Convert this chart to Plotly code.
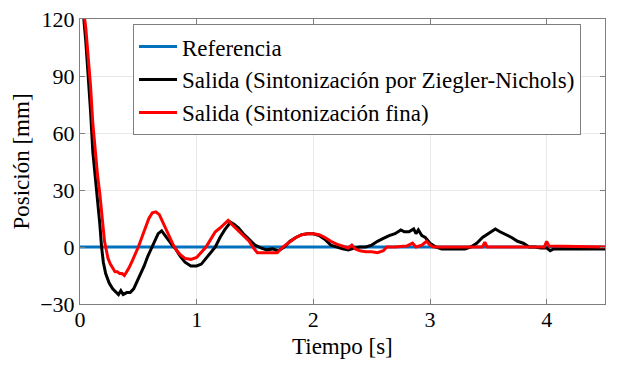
import plotly.graph_objects as go

# ---- data ----
t_ref = [0.0, 4.5]
y_ref = [0.0, 0.0]

t_zn = [0.00, 0.03, 0.05, 0.07, 0.09, 0.11, 0.13, 0.15, 0.17, 0.185, 0.20, 0.22,
        0.25, 0.28, 0.31, 0.33, 0.35, 0.37, 0.40, 0.43, 0.46, 0.49, 0.52, 0.55,
        0.58, 0.61, 0.64, 0.67, 0.70, 0.73, 0.76, 0.79, 0.82, 0.86, 0.90, 0.95,
        1.00, 1.04, 1.08, 1.12, 1.16, 1.20, 1.24, 1.29, 1.32, 1.36, 1.40, 1.45,
        1.50, 1.55, 1.60, 1.65, 1.70, 1.75, 1.80, 1.85, 1.90, 1.95, 2.00, 2.05,
        2.10, 2.15, 2.20, 2.25, 2.30, 2.35, 2.40, 2.45, 2.50, 2.55, 2.60, 2.65,
        2.70, 2.75, 2.78, 2.82, 2.86, 2.88, 2.90, 2.93, 2.96, 3.00, 3.05, 3.10,
        3.20, 3.30, 3.35, 3.40, 3.45, 3.50, 3.56, 3.60, 3.65, 3.70, 3.75, 3.80,
        3.85, 3.90, 3.95, 4.00, 4.03, 4.06, 4.20, 4.50]
y_zn = [135, 122, 108, 92, 72, 50, 38, 25, 12, 0, -8, -14,
        -19, -22, -24, -25, -23, -25, -24, -24, -22, -18, -14, -10,
        -5, -1, 3, 7, 8.5, 6, 3, 1, -1, -5, -8, -10,
        -10, -9, -6, -3, 0, 5, 9, 13, 12, 10, 7, 4,
        1, -0.5, -1.5, -1, -2, 0, 3, 5, 6.5, 7, 7, 6,
        4, 1, 0, -1, -1.5, -0.5, 0, 0, 1, 3, 4.5, 6,
        7, 9, 8, 8, 9.5, 7, 9, 6, 5, 2, 0, -1,
        -1, -1, 0, 2, 5, 7, 9.5, 8, 6.5, 5, 3, 2,
        0, 0, -0.5, -0.5, -2, -1, -1, -1]

t_fine = [0.00, 0.03, 0.05, 0.07, 0.09, 0.11, 0.13, 0.15, 0.17, 0.19, 0.21, 0.22,
          0.24, 0.26, 0.28, 0.30, 0.32, 0.34, 0.36, 0.38, 0.40, 0.42, 0.45, 0.48,
          0.50, 0.53, 0.56, 0.59, 0.62, 0.65, 0.68, 0.71, 0.74, 0.77, 0.80, 0.83,
          0.86, 0.90, 0.95, 1.00, 1.04, 1.08, 1.12, 1.16, 1.20, 1.24, 1.27, 1.30,
          1.35, 1.40, 1.45, 1.48, 1.52, 1.58, 1.64, 1.69, 1.74, 1.80, 1.85, 1.90,
          1.95, 2.00, 2.05, 2.10, 2.15, 2.20, 2.25, 2.30, 2.33, 2.36, 2.40, 2.45,
          2.50, 2.55, 2.60, 2.63, 2.70, 2.80, 2.85, 2.88, 2.93, 2.97, 3.00, 3.03,
          3.45, 3.47, 3.49, 3.98, 4.00, 4.02, 4.50]
y_fine = [135, 125, 115, 100, 85, 65, 50, 38, 28, 15, 3, 0,
          -6, -9, -11, -13, -13, -14, -14, -15, -13, -11, -7, -3,
          0, 5, 10, 15, 18, 18.5, 17, 13, 9, 5, 1, -2,
          -4, -6, -6.5, -5.5, -3, 0, 4, 8, 10, 12, 14, 12,
          9, 6, 3, 0, -3, -3, -3, -3, 0, 3, 5, 6.5,
          7, 7, 6.5, 5, 3, 1.5, 0.5, -0.5, 1, -1, -2, -2.5,
          -2.5, -3, -2, 0, 0, 0.5, 2, 0, 1, 3, 1, 0,
          0, 2.5, 0, 0, 3, 0.5, 0]

x_ticks = [0, 1, 2, 3, 4]
y_ticks = [-30, 0, 30, 60, 90, 120]

names = ["Referencia",
         "Salida (Sintonización por Ziegler-Nichols)",
         "Salida (Sintonización fina)"]
x_title = "Tiempo [s]"
y_title = "Posición [mm]"

FONT = "Liberation Serif"

fig = go.Figure()
fig.add_trace(go.Scatter(x=t_ref, y=y_ref, mode="lines", name=names[0],
                         line=dict(color="#0072BD", width=3)))
fig.add_trace(go.Scatter(x=t_zn, y=y_zn, mode="lines", name=names[1],
                         line=dict(color="#000000", width=3)))
fig.add_trace(go.Scatter(x=t_fine, y=y_fine, mode="lines", name=names[2],
                         line=dict(color="#FF0000", width=3)))

axis_common = dict(showline=True, linecolor="#7f7f7f", linewidth=1, mirror="ticks",
                   ticks="inside", ticklen=5, tickcolor="#7f7f7f",
                   showgrid=True, gridcolor="#e8e8e8", gridwidth=1, automargin=False,
                   zeroline=False, tickfont=dict(family=FONT, size=22, color="black"))

fig.update_xaxes(range=[0, 4.5], tickvals=x_ticks, ticklabelstandoff=-4, **axis_common)
fig.update_yaxes(range=[-30, 120], tickvals=y_ticks,
                 title=dict(text=y_title, font=dict(family=FONT, size=23, color="black"),
                            standoff=4),
                 **axis_common)

fig.add_annotation(text=x_title, xref="paper", yref="paper", x=0.5, y=-0.148,
                   xanchor="center", yanchor="middle", showarrow=False,
                   font=dict(family=FONT, size=23, color="black"))

fig.update_layout(
    width=624, height=370,
    margin=dict(l=80, r=19, t=19, b=66, autoexpand=False),
    paper_bgcolor="white", plot_bgcolor="white",
    font=dict(family=FONT, color="black"),
    legend=dict(x=0.101, y=0.982, xanchor="left", yanchor="top",
                bgcolor="white", bordercolor="#7f7f7f", borderwidth=1,
                font=dict(family=FONT, size=23, color="black"),
                itemwidth=38, tracegroupgap=0),
    showlegend=True,
)

fig.write_html("out.html", config={"displayModeBar": False},
               post_script="document.body.style.margin='0';")
